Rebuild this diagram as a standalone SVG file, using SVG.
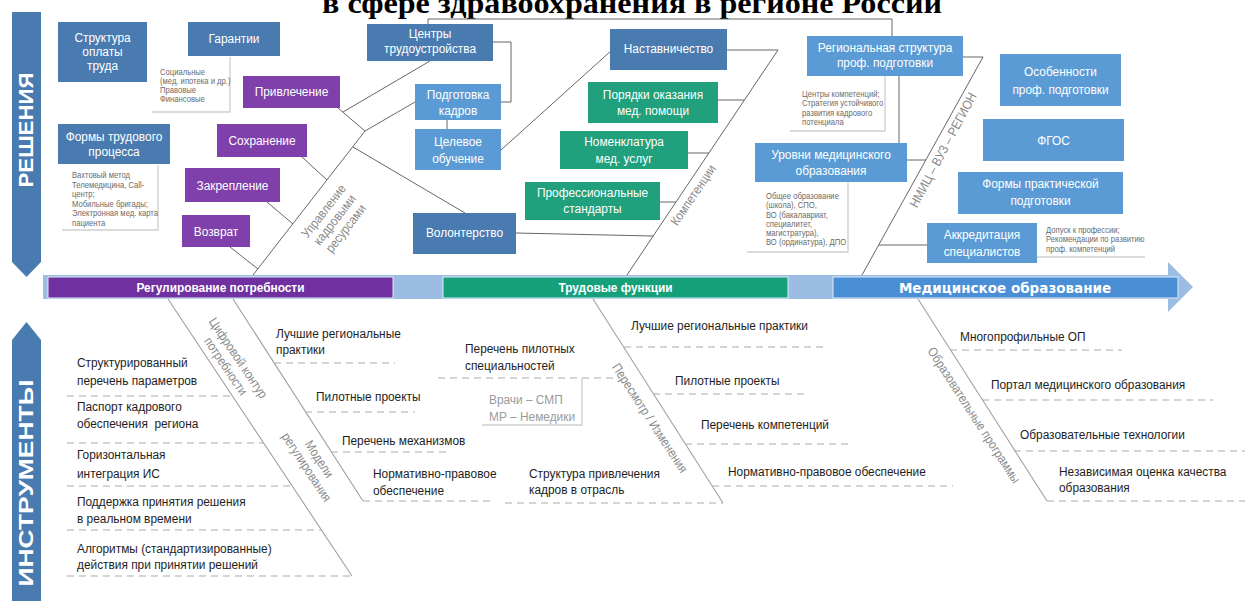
<svg xmlns="http://www.w3.org/2000/svg" width="1245" height="601" viewBox="0 0 1245 601">
<style>
text{font-family:"Liberation Sans",Arial,sans-serif}
.c{transform-box:fill-box;transform-origin:50% 50%;transform:scaleX(0.88);text-anchor:middle}
.l{transform-box:fill-box;transform-origin:0% 50%;transform:scaleX(0.88)}
.bx{fill:#fff;font-size:13.5px}
.dk{fill:#4a7bb0}
.lt{fill:#5b9bd5}
.pu{fill:#8040ab}
.gr{fill:#20a07c}
.note{fill:#6b6b6b;font-size:8.7px}
.it{fill:#1e1e1e;font-size:13.5px}
.gy{fill:#9a9a9a;font-size:13.5px}
.lab{fill:#8a8a8a;font-size:13px}
.ln{fill:none;stroke:#666;stroke-width:1}
.sp{fill:none;stroke:#a0a0a0;stroke-width:1.1}
.ds{fill:none;stroke:#ababab;stroke-width:1.2;stroke-dasharray:7 5}
.sh{fill:none;stroke:#cfcfcf;stroke-width:1.3}
.side{fill:#4a7bb0}
.st{fill:#fff;font-weight:bold;font-size:21px;text-anchor:middle}
.bar{fill:#fff;font-weight:bold;font-size:13.5px}
</style>
<rect width="1245" height="601" fill="#fff"/>

<text x="322" y="13" font-weight="bold" font-size="30" textLength="620" lengthAdjust="spacingAndGlyphs" style="font-family:'Liberation Serif','Times New Roman',serif">в сфере здравоохранения в регионе России</text>

<!-- side arrows -->
<g id="side-resheniya">
<path class="side" d="M12,12 H41 V262 L26.5,277 L12,262 Z"/>
<text class="st" transform="translate(32.5,130) rotate(-90)" textLength="115" lengthAdjust="spacingAndGlyphs">РЕШЕНИЯ</text>
</g>
<g id="side-instrumenty">
<path class="side" d="M12,601 V340 L26.5,322 L41,340 V601 Z"/>
<text class="st" transform="translate(32.5,483) rotate(-90)" textLength="207" lengthAdjust="spacingAndGlyphs">ИНСТРУМЕНТЫ</text>
</g>

<!-- main arrow -->
<g id="main-arrow">
<path d="M43,275 H1168 V262 L1193,287 L1168,312 V299 H43 Z" fill="#9cbde3"/>
<rect x="48" y="277" width="345" height="21" fill="#7030a0" stroke="#dfe9f6" stroke-width="1"/>
<rect x="443" y="277" width="345" height="21" fill="#15a07a" stroke="#dfe9f6" stroke-width="1"/>
<rect x="833" y="277" width="345" height="21" fill="#4a8fd6" stroke="#dfe9f6" stroke-width="1"/>
<text class="bar c" x="220.5" y="292.5">Регулирование потребности</text>
<text class="bar c" x="615.5" y="292.5">Трудовые функции</text>
<text x="1005" y="292.5" fill="#fff" font-weight="bold" font-size="13.5" text-anchor="middle" style="font-family:'DejaVu Sans',sans-serif">Медицинское образование</text>
</g>

<!-- connectors -->
<g id="connectors">
<path class="ln" d="M428,24 V19 H892 V36"/>
<path class="ln" d="M493,42 H511 V102 H501"/>
<path class="ln" d="M447,120 V129"/>
<path class="ln" d="M430,61 L343,112"/>
<path class="ln" d="M338,108 L365,131 L415,102"/>
<path class="ln" d="M365,131 L253,275"/>
<path class="ln" d="M302,157 L327,180"/>
<path class="ln" d="M267,202 L293,224"/>
<path class="ln" d="M230,247 L258,269"/>
<path class="ln" d="M353,147 L465,213"/>
<path class="ln" d="M501,150 L612,50"/>
<path class="ln" d="M627,275 L778,50"/>
<path class="ln" d="M727,50 H778"/>
<path class="ln" d="M718,100 H744"/>
<path class="ln" d="M688,153 H709"/>
<path class="ln" d="M660,202 H676"/>
<path class="ln" d="M516,233 L653,236"/>
<path class="ln" d="M862,275 L983,57"/>
<path class="ln" d="M963,57 H983"/>
<path class="ln" d="M899,76 V143"/>
<path class="ln" d="M907,160 H926"/>
<path class="ln" d="M879,245 H927"/>
<path class="sh" d="M1037,257 H1145"/>
<!-- bottom spines -->
<path class="sp" d="M168,299 L352,576"/>
<path class="sp" d="M233,299 L363,501"/>
<path class="sp" d="M593,299 L723,503"/>
<path class="sp" d="M918,299 L1047,501"/>
<!-- dashed -->
<path class="ds" d="M67,396 H232 M67,443 H263 M67,486 H292 M67,530 H321 M67,576 H352"/>
<path class="ds" d="M274,363 H395 M305,412 H415 M331,452 H450 M363,501 H492"/>
<path class="ds" d="M438,378 H620 M505,503 H723"/>
<path class="ds" d="M624,347 H824 M653,394 H805 M685,444 H848 M712,486 H953"/>
<path class="ds" d="M950,350 H1122 M982,400 H1213 M1014,451 H1245 M1047,501 H1245"/>
<path class="sh" d="M482,425 H582 V378"/>
</g>

<!-- top-left nodes -->
<g id="n-struktura"><rect class="dk" x="58" y="22" width="89" height="60"/>
<text class="bx c" x="102.5" y="42">Структура</text><text class="bx c" x="102.5" y="56">оплаты</text><text class="bx c" x="102.5" y="70">труда</text></g>
<g id="n-garantii"><rect class="dk" x="188" y="22" width="92" height="34"/><text class="bx c" x="234" y="43.5">Гарантии</text></g>
<g id="note-garantii"><path class="sh" d="M152,112 H230 V57"/>
<text class="note l" x="160" y="75">Социальные</text><text class="note l" x="160" y="84">(мед. ипотека и др.)</text><text class="note l" x="160" y="93">Правовые</text><text class="note l" x="160" y="102">Финансовые</text></g>
<g id="n-privlechenie"><rect class="pu" x="243" y="76" width="97" height="32"/><text class="bx c" x="291.5" y="96.5">Привлечение</text></g>
<g id="n-formy"><rect class="dk" x="58" y="124" width="112" height="40"/><text class="bx c" x="114" y="141">Формы трудового</text><text class="bx c" x="114" y="156">процесса</text></g>
<g id="note-formy"><path class="sh" d="M62,230 H158 V165"/>
<text class="note l" x="72" y="178">Вахтовый метод</text><text class="note l" x="72" y="187.6">Телемедицина, Call-</text><text class="note l" x="72" y="197.2">центр;</text><text class="note l" x="72" y="206.8">Мобильные бригады;</text><text class="note l" x="72" y="216.4">Электронная мед. карта</text><text class="note l" x="72" y="226">пациента</text></g>
<g id="n-sohranenie"><rect class="pu" x="217" y="124" width="90" height="33"/><text class="bx c" x="262" y="145">Сохранение</text></g>
<g id="n-zakreplenie"><rect class="pu" x="185" y="168" width="95" height="34"/><text class="bx c" x="232.5" y="190">Закрепление</text></g>
<g id="n-vozvrat"><rect class="pu" x="182" y="215" width="68" height="32"/><text class="bx c" x="216" y="236">Возврат</text></g>
<g id="lab-upravlenie" transform="translate(335,220) rotate(-52)">
<text class="lab c" x="0" y="-10">Управление</text><text class="lab c" x="0" y="4">кадровыми</text><text class="lab c" x="0" y="18">ресурсами</text></g>

<!-- middle top nodes -->
<g id="n-centry"><rect class="dk" x="367" y="24" width="126" height="37"/><text class="bx c" x="430" y="38.5">Центры</text><text class="bx c" x="430" y="53">трудоустройства</text></g>
<g id="n-podgotovka"><rect class="lt" x="415" y="84" width="86" height="36"/><text class="bx c" x="458" y="99.5">Подготовка</text><text class="bx c" x="458" y="115">кадров</text></g>
<g id="n-celevoe"><rect class="lt" x="415" y="129" width="86" height="41"/><text class="bx c" x="458" y="146.5">Целевое</text><text class="bx c" x="458" y="163">обучение</text></g>
<g id="n-volonterstvo"><rect class="dk" x="413" y="213" width="103" height="41"/><text class="bx c" x="464.5" y="237.5">Волонтерство</text></g>
<g id="n-nastavnichestvo"><rect class="dk" x="610" y="29" width="117" height="41"/><text class="bx c" x="668.5" y="53.5">Наставничество</text></g>
<g id="n-poryadki"><rect class="gr" x="588" y="82" width="130" height="41"/><text class="bx c" x="653" y="99">Порядки оказания</text><text class="bx c" x="653" y="115">мед. помощи</text></g>
<g id="n-nomenklatura"><rect class="gr" x="560" y="131" width="128" height="38"/><text class="bx c" x="624" y="146.5">Номенклатура</text><text class="bx c" x="624" y="163">мед. услуг</text></g>
<g id="n-profstandarty"><rect class="gr" x="525" y="182" width="135" height="38"/><text class="bx c" x="592.5" y="197">Профессиональные</text><text class="bx c" x="592.5" y="213">стандарты</text></g>
<g id="lab-kompetencii" transform="translate(693,195) rotate(-56)"><text class="lab c" x="0" y="4.5">Компетенции</text></g>

<!-- right top nodes -->
<g id="n-regstruktura"><rect class="lt" x="807" y="36" width="156" height="40"/><text class="bx c" x="885" y="52">Региональная структура</text><text class="bx c" x="885" y="67">проф. подготовки</text></g>
<g id="note-regstruktura"><path class="sh" d="M790,131 H885 V76"/>
<text class="note l" x="802" y="97">Центры компетенций;</text><text class="note l" x="802" y="106.5">Стратегия устойчивого</text><text class="note l" x="802" y="116">развития кадрового</text><text class="note l" x="802" y="125.5">потенциала</text></g>
<g id="n-urovni"><rect class="lt" x="755" y="143" width="152" height="39"/><text class="bx c" x="831" y="159">Уровни медицинского</text><text class="bx c" x="831" y="175">образования</text></g>
<g id="note-urovni"><path class="sh" d="M747,252 H848 V182"/>
<text class="note l" x="766" y="199">Общее образование</text><text class="note l" x="766" y="208.5">(школа), СПО,</text><text class="note l" x="766" y="218">ВО (бакалавриат,</text><text class="note l" x="766" y="227">специалитет,</text><text class="note l" x="766" y="236">магистратура),</text><text class="note l" x="766" y="245.5">ВО (ординатура), ДПО</text></g>
<g id="n-osobennosti"><rect class="lt" x="1000" y="54" width="121" height="52"/><text class="bx c" x="1060.5" y="76">Особенности</text><text class="bx c" x="1060.5" y="94">проф. подготовки</text></g>
<g id="n-fgos"><rect class="lt" x="983" y="119" width="141" height="42"/><text class="bx c" x="1053.5" y="145">ФГОС</text></g>
<g id="n-formypr"><rect class="lt" x="958" y="172" width="165" height="42"/><text class="bx c" x="1040.5" y="188.5">Формы практической</text><text class="bx c" x="1040.5" y="205.5">подготовки</text></g>
<g id="n-akkreditaciya"><rect class="lt" x="927" y="223" width="110" height="40"/><text class="bx c" x="982" y="239">Аккредитация</text><text class="bx c" x="982" y="256">специалистов</text></g>
<g id="note-akkreditaciya">
<text class="note l" x="1046" y="233.5">Допуск к профессии;</text><text class="note l" x="1046" y="242.5">Рекомендации по развитию</text><text class="note l" x="1046" y="251.7">проф. компетенций</text></g>
<g id="lab-nmic" transform="translate(943,150) rotate(-62)"><text class="lab c" x="0" y="4.5">НМИЦ – ВУЗ – РЕГИОН</text></g>

<!-- bottom -->
<g id="i-strukt"><text class="it l" x="77" y="367">Структурированный</text><text class="it l" x="77" y="385">перечень параметров</text></g>
<g id="i-pasport"><text class="it l" x="77" y="411">Паспорт кадрового</text><text class="it l" x="77" y="428" style="white-space:pre">обеспечения  региона</text></g>
<g id="i-gorizont"><text class="it l" x="77" y="459">Горизонтальная</text><text class="it l" x="77" y="478">интеграция ИС</text></g>
<g id="i-podderzhka"><text class="it l" x="77" y="506">Поддержка принятия решения</text><text class="it l" x="77" y="523">в реальном времени</text></g>
<g id="i-algoritmy"><text class="it l" x="77" y="553">Алгоритмы (стандартизированные)</text><text class="it l" x="77" y="569">действия при принятии решений</text></g>
<g id="lab-cifrovoy" transform="translate(232,362) rotate(56)"><text class="lab c" x="0" y="-3">Цифровой контур</text><text class="lab c" x="0" y="12">потребности</text></g>

<g id="i-luchshie1"><text class="it l" x="276" y="338">Лучшие региональные</text><text class="it l" x="276" y="354">практики</text></g>
<g id="i-pilot1"><text class="it l" x="316" y="401">Пилотные проекты</text></g>
<g id="i-mehanizmy"><text class="it l" x="342" y="445">Перечень механизмов</text></g>
<g id="i-normativ1"><text class="it l" x="373" y="478">Нормативно-правовое</text><text class="it l" x="373" y="495">обеспечение</text></g>
<g id="lab-modeli" transform="translate(313,463) rotate(57)"><text class="lab c" x="0" y="-3">Модели</text><text class="lab c" x="0" y="12">регулирования</text></g>

<g id="i-perechen-pilot"><text class="it l" x="465" y="353">Перечень пилотных</text><text class="it l" x="465" y="370">специальностей</text></g>
<g id="note-vrachi"><text class="gy l" x="489" y="404">Врачи – СМП</text><text class="gy l" x="489" y="421">МР – Немедики</text></g>
<g id="i-struktura-privl"><text class="it l" x="529" y="478">Структура привлечения</text><text class="it l" x="529" y="494">кадров в отрасль</text></g>
<g id="i-luchshie2"><text class="it l" x="631" y="330">Лучшие региональные практики</text></g>
<g id="i-pilot2"><text class="it l" x="675" y="385">Пилотные проекты</text></g>
<g id="i-kompetencii"><text class="it l" x="701" y="429">Перечень компетенций</text></g>
<g id="i-normativ2"><text class="it l" x="728" y="476">Нормативно-правовое обеспечение</text></g>
<g id="lab-peresmotr" transform="translate(650,418) rotate(57)"><text class="lab c" x="0" y="4.5">Пересмотр / Изменения</text></g>

<g id="i-mnogoprof"><text class="it l" x="960" y="341">Многопрофильные ОП</text></g>
<g id="i-portal"><text class="it l" x="991" y="389">Портал медицинского образования</text></g>
<g id="i-tehnologii"><text class="it l" x="1020" y="439">Образовательные технологии</text></g>
<g id="i-ocenka"><text class="it l" x="1059" y="476">Независимая оценка качества</text><text class="it l" x="1059" y="492">образования</text></g>
<g id="lab-obrprog" transform="translate(974,415) rotate(57)"><text class="lab c" x="0" y="4.5">Образовательные программы</text></g>
</svg>
